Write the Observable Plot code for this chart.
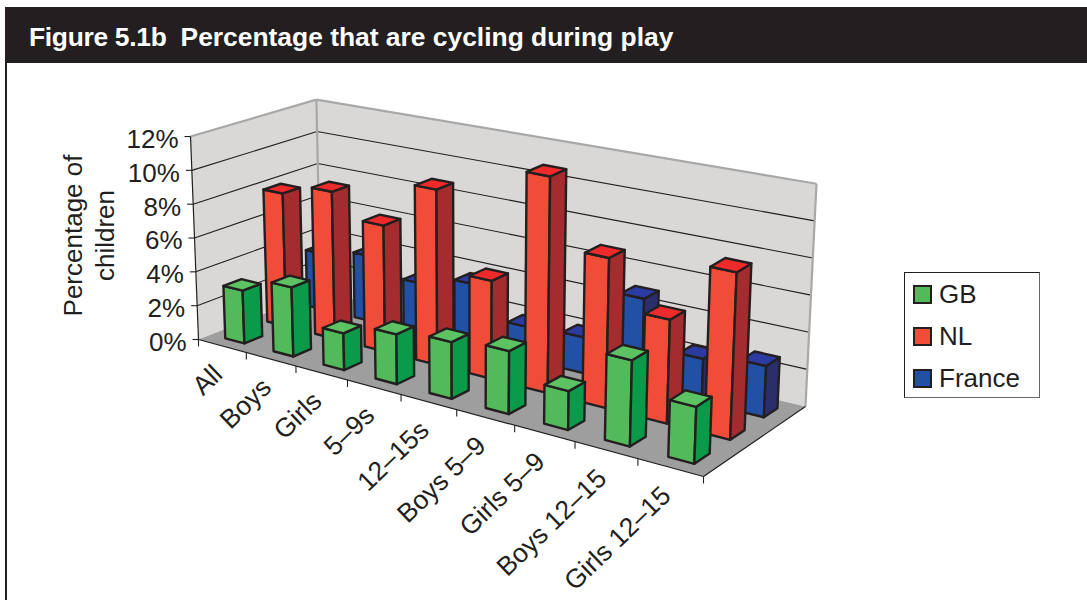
<!DOCTYPE html>
<html><head><meta charset="utf-8">
<script src="https://cdn.jsdelivr.net/npm/d3@7"></script>
<script src="https://cdn.jsdelivr.net/npm/@observablehq/plot@0.6"></script>
<style>
html,body{margin:0;padding:0;background:#fff;}
#page{position:relative;width:1087px;height:600px;overflow:hidden;font-family:"Liberation Sans",Arial,sans-serif;color:#231f20;}
#head{position:absolute;left:5px;top:7px;width:1082px;height:56px;background:#231f20;color:#fff;font-weight:bold;font-size:26.4px;line-height:61px;box-sizing:border-box;padding-left:24px;white-space:pre;}
#head span{letter-spacing:-0.3px;}
#edge{position:absolute;left:5px;top:63px;width:2px;height:537px;background:#231f20;}
#chart{position:absolute;left:0;top:63px;}
#legend{position:absolute;left:904px;top:272px;width:134px;height:124px;border:1px solid #231f20;border-right:1.5px solid #666;border-bottom:1.5px solid #666;box-sizing:content-box;}
.row{position:absolute;left:8px;display:flex;align-items:center;font-size:26px;height:22px;}
.sw{display:inline-block;width:15px;height:15px;border:2.5px solid #231f20;margin-right:7px;}
</style></head><body>
<div id="page">
<div id="head"><span>Figure 5.1b  </span>Percentage that are cycling during play</div>
<div id="edge"></div>
<div id="chart"></div>
<div id="legend"></div>
</div>
<script>
const categories = ["All","Boys","Girls","5–9s","12–15s","Boys 5–9","Girls 5–9","Boys 12–15","Girls 12–15"];
const GB     = [3.1,4.0,2.1,2.8,3.15,3.45,2.1,4.6,3.0];
const NL     = [7.95,8.65,7.3,10.0,5.5,12.0,8.2,5.6,8.9];
const France = [3.4,3.9,2.95,3.6,1.85,2.0,4.9,2.35,2.75];
const yTicks = [0,2,4,6,8,10,12];
const yMax = 12;

const seriesList = [
  {name:"GB", values:GB, front:"#52ba5a", side:"#0a9a4a", top:"#5cc262", depth:0},
  {name:"NL", values:NL, front:"#f04c38", side:"#a42b2e", top:"#ee2a2a", depth:1},
  {name:"France", values:France, front:"#2150a4", side:"#2a2f6b", top:"#2b3ba0", depth:2}
];

// Perspective frame: floor corners (front-left, front-right, back-right, back-left),
// vertical vanishing point, and the full-height rise at each floor corner.
const floorQuad = [[198,339],[703,476],[805,406],[320,291]];
const vanish = [469,7219];
const rise = [0.0295,0.0340,0.0327,0.0277];
const uWarp = 0.025;
function homography(q){
  const [[x0,y0],[x1,y1],[x2,y2],[x3,y3]] = q;
  const dx1=x1-x2, dx2=x3-x2, sx=x0-x1+x2-x3;
  const dy1=y1-y2, dy2=y3-y2, sy=y0-y1+y2-y3;
  const den=dx1*dy2-dx2*dy1;
  const g=(sx*dy2-dx2*sy)/den, h=(dx1*sy-sx*dy1)/den;
  const a=x1-x0+g*x1, b=x3-x0+h*x3, c=x0, d=y1-y0+g*y1, e=y3-y0+h*y3, f=y0;
  return (u,v)=>{const w=g*u+h*v+1; return [(a*u+b*v+c)/w,(d*u+e*v+f)/w];};
}
const H0=homography(floorQuad);
function proj(u0,v,val){
  const u=u0*(1+uWarp)/(1+uWarp*u0);
  const p=H0(u,v);
  const r=(rise[0]*(1-u)+rise[1]*u)*(1-v)+(rise[3]*(1-u)+rise[2]*u)*v;
  const t=r*val/yMax;
  return [p[0]+(p[0]-vanish[0])*t, p[1]+(p[1]-vanish[1])*t];
}

const n=categories.length, barFrac=0.40, depthFrac=0.42;
const polys=[];
let pid=0;
function poly(pts,paint){const id=pid++; pts.forEach(p=>polys.push({x:p[0],y:p[1],id,paint}));}
[...seriesList].reverse().forEach(s=>{
  s.values.forEach((val,i)=>{
    const u0=(i+0.5-barFrac/2)/n, u1=(i+0.5+barFrac/2)/n;
    const v0=(s.depth+0.5-depthFrac/2)/3, v1=(s.depth+0.5+depthFrac/2)/3;
    poly([proj(u0,v0,0),proj(u1,v0,0),proj(u1,v0,val),proj(u0,v0,val)],s.front);
    poly([proj(u1,v0,0),proj(u1,v1,0),proj(u1,v1,val),proj(u1,v0,val)],s.side);
    poly([proj(u0,v0,val),proj(u1,v0,val),proj(u1,v1,val),proj(u0,v1,val)],s.top);
  });
});

function seg(a,b){return {x1:a[0],y1:a[1],x2:b[0],y2:b[1]};}
const wallPolys=[];
[[[proj(0,0,0),proj(0,1,0),proj(0,1,yMax),proj(0,0,yMax)],"#d9d8d6",0],
 [[proj(0,1,0),proj(1,1,0),proj(1,1,yMax),proj(0,1,yMax)],"#d9d8d6",1],
 [[proj(0,0,0),proj(1,0,0),proj(1,1,0),proj(0,1,0)],"#9e9e9e",2]].forEach(([pts,paint,id])=>pts.forEach(p=>wallPolys.push({x:p[0],y:p[1],id,paint})));

const grid=yTicks.filter(t=>t>0&&t<yMax).flatMap(t=>[seg(proj(0,0,t),proj(0,1,t)),seg(proj(0,1,t),proj(1,1,t))]);
const wallEdge=[seg(proj(0,0,yMax),proj(0,1,yMax)),seg(proj(0,1,yMax),proj(1,1,yMax)),seg(proj(1,1,yMax),proj(1,1,0)),seg(proj(0,1,yMax),proj(0,1,0))];
const axisLines=[seg(proj(0,0,0),proj(0,0,yMax)),seg(proj(0,0,0),proj(1,0,0)),seg(proj(1,0,0),proj(1,1,0))];
const yTickSegs=yTicks.map(t=>{const p=proj(0,0,t);return seg([p[0]-6,p[1]],p);});
const xTickSegs=d3.range(n+1).map(i=>{const p=proj(i/n,0,0);return seg(p,[p[0],p[1]+7]);});
const yLabels=yTicks.map(t=>{const p=proj(0,0,t);return {x:p[0],y:p[1],label:t+"%"};});
const xLabels=categories.map((c,i)=>{const p=proj((i+0.5)/n,0,0);return {x:p[0],y:p[1],label:c};});

const ink="#231f20";
const chart=Plot.plot({
  width:1087,height:537,margin:0,
  x:{domain:[0,1087],range:[0,1087],axis:null},
  y:{domain:[63,600],range:[0,537],axis:null},
  color:{type:"identity"},
  style:{background:"transparent",fontFamily:"'Liberation Sans',Arial,sans-serif"},
  marks:[
    Plot.line(wallPolys,{x:"x",y:"y",z:"id",fill:d=>d.paint,stroke:"none",curve:"linear-closed"}),
    Plot.link(grid,{x1:"x1",y1:"y1",x2:"x2",y2:"y2",stroke:ink,strokeWidth:1.1}),
    Plot.link(wallEdge,{x1:"x1",y1:"y1",x2:"x2",y2:"y2",stroke:"#a8a8a8",strokeWidth:2.2}),
    Plot.link(axisLines,{x1:"x1",y1:"y1",x2:"x2",y2:"y2",stroke:ink,strokeWidth:1.2}),
    Plot.link(yTickSegs,{x1:"x1",y1:"y1",x2:"x2",y2:"y2",stroke:ink,strokeWidth:1.1}),
    Plot.link(xTickSegs,{x1:"x1",y1:"y1",x2:"x2",y2:"y2",stroke:ink,strokeWidth:1.1}),
    Plot.line(polys,{x:"x",y:"y",z:"id",fill:d=>d.paint,stroke:ink,strokeWidth:2.4,strokeLinejoin:"round",curve:"linear-closed"}),
    Plot.text(yLabels,{x:"x",y:"y",text:"label",textAnchor:"end",dx:-12,dy:3,fontSize:26,fill:ink}),
    Plot.text(xLabels,{x:"x",y:"y",text:"label",textAnchor:"end",rotate:-44,dx:-4,dy:24,fontSize:26.5,fill:ink,lineAnchor:"middle"}),
    Plot.text(["Percentage of\nchildren"],{x:()=>87,y:()=>235,text:d=>d,rotate:-90,fontSize:26,lineHeight:1.22,fill:ink,textAnchor:"middle"})
  ]
});
document.getElementById("chart").appendChild(chart);

const legend=document.getElementById("legend");
seriesList.forEach((s,i)=>{
  const r=document.createElement("div");r.className="row";r.style.top=(10+i*42)+"px";
  const sw=document.createElement("span");sw.className="sw";sw.style.background=s.front;
  r.appendChild(sw);r.appendChild(document.createTextNode(s.name));legend.appendChild(r);
});
</script>
</body></html>
